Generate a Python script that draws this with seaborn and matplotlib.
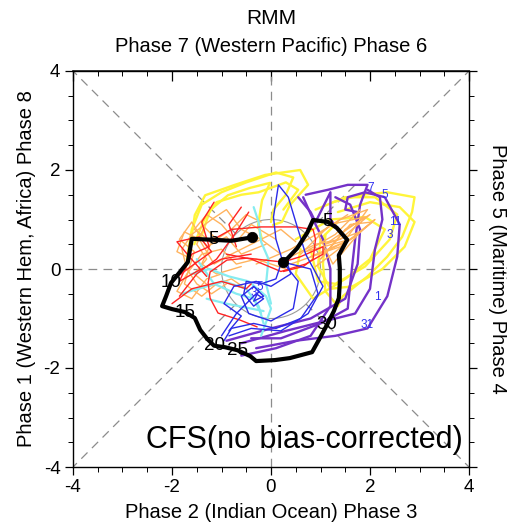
import numpy as np
import pandas as pd
import matplotlib
matplotlib.use("Agg")
import matplotlib.pyplot as plt
from matplotlib.ticker import MultipleLocator
import seaborn as sns

sns.set_theme(style="white")
plt.rcParams['font.family'] = ['Liberation Sans', 'DejaVu Sans']
plt.rcParams['axes.unicode_minus'] = False
plt.rcParams['text.color'] = 'black'
plt.rcParams['xtick.color'] = 'black'
plt.rcParams['ytick.color'] = 'black'

# ---------------- data ----------------
# observed RMM trajectory (RMM1, RMM2)
obs_x = [-0.38, -0.80, -1.17, -1.60, -1.68, -1.84, -2.02, -2.12, -2.20, -2.00, -1.74, -1.54,
         -1.43, -1.29, -1.15, -0.93, -0.68, -0.42, -0.30, 0.08, 0.38, 0.83, 0.99, 1.13,
         1.27, 1.37, 1.39, 1.39, 1.37, 1.54, 1.33, 1.15, 0.85, 0.73, 0.53, 0.34, 0.24]
obs_y = [0.64, 0.57, 0.59, 0.61, 0.14, -0.06, -0.28, -0.55, -0.75, -0.81, -0.87, -0.99,
         -1.23, -1.41, -1.55, -1.58, -1.64, -1.76, -1.86, -1.84, -1.80, -1.68, -1.39, -1.13,
         -0.85, -0.59, -0.28, 0.02, 0.28, 0.59, 0.83, 0.95, 0.99, 0.73, 0.42, 0.22, 0.14]
day_labels = ["5", "10", "15", "20", "25", "30", "5"]
day_index = [2, 6, 10, 14, 16, 23, 31]

yellow_tracks = [
    [(-1.64, 0.38), (-1.54, 1.09), (-1.33, 1.49), (-0.73, 1.70), (-0.12, 1.90), (0.59, 2.00),
     (0.75, 1.70), (0.38, 1.29), (0.22, 0.95), (0.04, 0.89)],
    [(-1.43, 0.59), (-1.23, 1.19), (-0.87, 1.49), (-0.42, 1.64), (-0.02, 1.74), (-0.18, 1.39),
     (-0.26, 0.89), (-0.18, 0.59)],
    [(-1.70, 0.20), (-1.60, 0.80), (-1.40, 1.30), (-1.00, 1.55), (-0.50, 1.75), (0.10, 1.95),
     (0.45, 1.85), (0.30, 1.50), (0.05, 1.20), (0.00, 0.95)],
    [(-1.55, 0.50), (-1.35, 1.00), (-1.10, 1.35), (-0.60, 1.50), (-0.25, 1.55), (0.30, 1.75),
     (0.55, 1.60), (0.25, 1.20)],
    [(1.25, 1.35), (1.85, 1.50), (2.35, 1.55), (2.90, 1.45), (2.85, 1.15), (2.65, 0.65),
     (2.35, 0.25), (1.95, -0.15), (1.45, -0.55), (1.35, -0.75), (1.10, -0.45), (1.05, 0.10), (1.10, 0.70)],
    [(1.35, 1.15), (2.00, 1.35), (2.60, 1.25), (2.90, 0.95), (2.70, 0.45), (2.25, 0.00),
     (1.65, -0.35), (1.20, -0.40), (0.95, 0.05), (1.00, 0.60), (1.35, 0.95)],
    [(0.50, 0.60), (1.20, 1.00), (1.90, 1.05), (2.30, 0.80), (2.00, 0.20), (1.50, -0.20),
     (0.85, -0.60), (0.50, -0.10), (0.60, 0.40)],
    [(0.90, 1.20), (1.50, 1.45), (2.10, 1.45), (2.55, 1.10), (2.40, 0.60), (1.90, 0.05),
     (1.30, -0.30), (0.95, -0.25), (0.80, 0.40)],
]

purple_tracks = [
    [(-0.30, -1.60), (0.50, -1.45), (1.30, -1.35), (1.95, -1.20), (2.35, -0.55), (2.55, 0.25),
     (2.60, 0.90), (2.30, 1.45), (1.90, 1.55), (1.55, 1.45), (1.50, 1.20), (1.75, 1.15)],
    [(-0.60, -1.50), (0.30, -1.25), (1.10, -1.05), (1.70, -0.90), (2.00, -0.40), (2.10, 0.40),
     (2.25, 1.00), (2.20, 1.45), (1.95, 1.60)],
    [(0.65, 1.45), (0.85, 1.00), (1.05, 0.60), (1.20, 0.00), (1.20, -0.75), (0.80, -1.35),
     (0.10, -1.60), (-0.60, -1.75)],
    [(0.70, 1.50), (1.15, 1.60), (1.55, 1.70), (1.95, 1.70), (1.80, 1.30), (1.70, 0.60),
     (1.60, -0.30), (1.55, -0.80), (1.00, -1.10), (0.20, -1.40), (-0.40, -1.40)],
    [(0.55, 1.45), (0.80, 1.15), (0.90, 0.95), (1.20, 1.55), (1.20, 1.00), (1.45, 0.70)],
    [(-0.90, -1.45), (0.00, -1.20), (0.80, -1.00), (1.50, -0.60), (1.75, 0.10), (1.80, 0.80),
     (1.60, 1.30), (1.30, 1.45)],
]

orange_tracks = [
    [(0.20, 0.30), (-0.20, 0.60), (-0.60, 0.80), (-0.90, 1.20), (-1.20, 1.00), (-1.60, 0.70),
     (-1.80, 0.40), (-1.70, 0.00), (-1.50, -0.30), (-1.20, -0.50), (-0.90, -0.30)],
    [(0.30, 0.00), (-0.30, 0.20), (-0.70, 0.10), (-1.00, 0.40), (-1.40, 0.30), (-1.70, -0.10),
     (-1.90, -0.45), (-1.60, -0.60), (-1.30, -0.20), (-1.00, -0.10)],
    [(-0.20, 0.95), (-0.50, 1.10), (-0.80, 0.80), (-1.10, 0.60), (-1.35, 0.85), (-1.50, 0.50),
     (-1.30, 0.20), (-1.55, -0.10), (-1.25, -0.35), (-0.80, -0.20), (-0.50, -0.40)],
    [(0.50, 0.55), (0.20, 0.80), (-0.40, 0.50), (-0.80, 0.30), (-1.15, 0.10), (-1.45, 0.60),
     (-1.75, 0.75), (-1.90, 0.35), (-1.60, 0.20)],
    [(-0.10, 0.50), (-0.60, 0.30), (-0.90, 0.65), (-1.30, 0.45), (-1.60, 0.95), (-1.85, 0.60),
     (-1.55, 0.35), (-1.75, -0.30), (-1.40, -0.55), (-1.10, -0.30)],
    [(0.10, 0.60), (-0.40, 0.90), (-0.70, 0.55), (-1.00, 0.90), (-1.30, 1.10), (-1.55, 0.80),
     (-1.20, 0.55), (-1.40, 0.10), (-1.10, -0.10), (-0.60, 0.05)],
    [(0.30, 0.20), (0.90, 0.50), (1.40, 0.60), (2.00, 1.10), (1.50, 0.80), (1.00, 0.20),
     (1.60, 0.90), (2.05, 0.95), (1.30, 0.35), (0.90, 0.05)],
    [(0.60, 0.30), (1.20, 0.90), (1.90, 1.05), (1.10, 0.50), (1.80, 0.75), (1.25, 0.10),
     (0.95, 0.70), (1.55, 1.10)],
    [(-0.30, 0.10), (0.40, 0.40), (1.00, 0.75), (1.40, 1.00), (1.95, 1.20), (1.40, 0.45),
     (0.80, 0.25), (1.50, 0.55)],
    [(0.40, 0.10), (1.10, 0.35), (1.70, 0.65), (2.10, 1.00), (1.60, 0.60), (0.70, 0.35),
     (1.30, 0.70), (1.80, 1.20)],
]

cyan_tracks = [
    [(-1.60, -0.10), (-1.25, 0.00), (-0.85, -0.15), (-0.45, -0.25), (-0.10, -0.55), (0.00, -0.80), (-0.20, -1.35)],
    [(-1.80, -0.50), (-1.30, -0.35), (-0.95, -0.25), (-0.50, -0.40), (-0.25, -0.75), (-0.15, -1.10)],
    [(-1.50, 0.20), (-1.15, -0.30), (-0.70, -0.50), (-0.35, -0.60), (-0.20, -0.90)],
    [(-0.35, 1.25), (-0.25, 0.95), (-0.20, 0.55), (-0.05, 0.20), (-0.10, -0.30), (0.00, -0.70)],
    [(-1.30, -0.60), (-0.90, -0.70), (-0.40, -0.80), (-0.15, -0.85)],
]

red_tracks = [
    [(0.24, 0.14), (-0.48, 0.22), (-0.89, 0.18), (-1.23, -0.06), (-1.27, -0.28), (-1.23, -0.59),
     (-1.07, -0.89), (-0.63, -1.03), (-0.28, -1.17)],
    [(-1.25, 0.55), (-0.80, 0.80), (-0.20, 0.85), (0.50, 0.85), (0.85, 0.80), (0.90, 0.60),
     (0.85, 0.20), (0.65, 0.05), (0.25, -0.05)],
    [(0.24, 0.14), (0.60, 0.25), (1.05, 0.45), (1.05, 0.30), (0.70, 0.10), (0.20, -0.05),
     (-0.40, 0.20), (-0.90, 0.30)],
    [(-0.40, 0.30), (-1.00, 0.20), (-1.50, -0.05), (-1.85, -0.25), (-1.60, 0.30), (-1.25, 0.45),
     (-1.40, 0.95), (-1.15, 1.35)],
    [(-0.40, -0.30), (-0.50, -0.40), (-1.00, -0.25), (-1.60, -0.40), (-2.00, -0.70)],
    [(-1.30, -0.15), (-1.65, 0.25), (-1.90, 0.55), (-1.45, 0.65), (-1.20, 0.35), (-1.55, 0.10), (-1.95, -0.20)],
    [(-0.70, 0.45), (-0.85, 0.90), (-0.60, 1.25)],
    [(-1.85, -0.55), (-1.50, -0.10), (-1.10, 0.20), (-0.70, 0.75), (-0.45, 1.15)],
]

blue_tracks = [
    [(0.24, 0.14), (0.55, -0.25), (0.45, -0.80), (0.00, -1.05), (-0.45, -0.90), (-0.60, -0.55),
     (-0.35, -0.35), (-0.15, -0.55), (-0.35, -0.65), (-0.25, -0.45)],
    [(0.24, 0.14), (0.10, 0.60), (0.05, 1.05), (0.15, 1.70), (0.35, 1.45), (0.50, 0.95),
     (0.70, 0.30), (1.05, -0.35), (0.75, -0.90), (0.20, -1.25), (-0.40, -1.20), (-0.85, -1.35)],
    [(0.24, 0.14), (0.80, 0.00), (0.95, -0.50), (0.60, -1.00), (0.10, -1.20), (-0.35, -1.10),
     (-0.80, -1.20), (-0.95, -1.45)],
    [(0.20, 0.10), (0.10, -0.20), (-0.20, -0.30), (-0.50, -0.25), (-0.55, -0.50), (-0.35, -0.75),
     (-0.15, -0.60), (-0.30, -0.50), (-0.45, -0.65), (-0.70, -0.90), (-1.00, -1.35)],
    [(0.30, 0.20), (0.40, -0.10), (0.00, -0.35), (-0.30, -0.25), (-0.75, -0.35), (-0.95, -0.70),
     (-0.60, -0.95), (-0.85, -1.25)],
]

member_labels = ["7", "5", "11", "3", "1", "31", "3", "5"]
member_lab_x = [2.02, 2.30, 2.51, 2.40, 2.14, 1.94, -0.35, -0.22]
member_lab_y = [1.64, 1.49, 0.95, 0.69, -0.57, -1.13, -0.48, -0.36]

# ---------------- figure ----------------
fig = plt.figure(figsize=(5.07, 5.23), dpi=100)
ax = fig.add_axes([73 / 507, 56 / 523, 396 / 507, 396 / 523])


def to_frame(tracks):
    rows = []
    for k, tr in enumerate(tracks):
        for i, (x, y) in enumerate(tr):
            rows.append((k, i, x, y))
    return pd.DataFrame(rows, columns=["track", "step", "x", "y"])


# reference lines
dash = dict(color="#8c8c8c", lw=0.9, ls=(0, (7, 5)), zorder=1)
r = 1 / np.sqrt(2)
for sx, sy in [(1, 1), (1, -1), (-1, 1), (-1, -1)]:
    ax.plot([sx * r, sx * 4], [sy * r, sy * 4], **dash)
ax.plot([1, 4], [0, 0], **dash)
ax.plot([-4, -1], [0, 0], **dash)
ax.plot([0, 0], [1, 4], **dash)
ax.plot([0, 0], [-4, -1], **dash)
ax.add_patch(plt.Circle((0, 0), 1, fill=False, color="#9a9a9a", lw=0.8, zorder=1))

groups = [
    (yellow_tracks, "#FFF53A", 1.7, 2),
    (purple_tracks, "#7432C8", 1.7, 3),
    (orange_tracks, "#FFB35E", 1.0, 4),
    (cyan_tracks, "#86ECF0", 1.6, 5),
    (red_tracks, "#FF2424", 1.0, 6),
    (blue_tracks, "#2B2BE8", 1.0, 7),
]
for tracks, col, lw, z in groups:
    df = to_frame(tracks)
    sns.lineplot(data=df, x="x", y="y", units="track", estimator=None, sort=False,
                 color=col, linewidth=lw, legend=False, ax=ax, zorder=z)

obs_df = pd.DataFrame({"x": obs_x, "y": obs_y, "step": range(len(obs_x))})
sns.lineplot(data=obs_df, x="x", y="y", sort=False, estimator=None, color="black",
             linewidth=3.0, legend=False, ax=ax, zorder=9)
sns.scatterplot(x=[obs_x[0], obs_x[-1]], y=[obs_y[0], obs_y[-1]], color="black",
                s=55, marker="o", edgecolor="black", ax=ax, zorder=10, legend=False)

for lab, idx in zip(day_labels, day_index):
    ax.text(obs_x[idx], obs_y[idx], lab, fontsize=13.5, ha="center", va="center",
            color="black", zorder=11)
for lab, x, y in zip(member_labels, member_lab_x, member_lab_y):
    ax.text(x, y, lab, fontsize=8.5, ha="center", va="center", color="#3030F0", zorder=11)

ax.text(3.87, -3.46, "CFS(no bias-corrected)", fontsize=22, ha="right", va="center",
        color="black", zorder=12)

ax.set_xlim(-4, 4)
ax.set_ylim(-4, 4)
ax.set_xlabel("")
ax.set_ylabel("")
ax.set_xticks([-4, -2, 0, 2, 4])
ax.set_yticks([-4, -2, 0, 2, 4])
ax.set_xticklabels(["-4", "-2", "0", "2", "4"])
ax.set_yticklabels(["-4", "-2", "0", "2", "4"])
ax.xaxis.set_minor_locator(MultipleLocator(0.5))
ax.yaxis.set_minor_locator(MultipleLocator(0.5))
ax.tick_params(axis="both", which="major", direction="out", length=6, width=0.9,
               labelsize=13.5, colors="black", pad=3)
ax.tick_params(axis="both", which="minor", direction="out", length=3.5, width=0.7)
ax.tick_params(axis="y", which="both", left=True, right=True, labelright=False)
ax.tick_params(axis="x", which="both", bottom=True, top=False)
for s in ax.spines.values():
    s.set_color("black")
    s.set_linewidth(1.0)

sec = ax.secondary_xaxis("top")
sec.set_xticks([-4, -2, 0, 2, 4])
sec.xaxis.set_minor_locator(MultipleLocator(0.5))
sec.tick_params(axis="x", which="major", direction="in", length=7, width=0.9, labeltop=False)
sec.tick_params(axis="x", which="minor", direction="in", length=3.5, width=0.7)
sec.set_xticklabels([])

fig.text(271 / 507, 1 - 18 / 523, "RMM", fontsize=15, ha="center", va="center")
fig.text(271 / 507, 1 - 46 / 523, "Phase 7 (Western Pacific) Phase 6", fontsize=14.5,
         ha="center", va="center")
fig.text(271 / 507, 1 - 513 / 523, "Phase 2 (Indian Ocean) Phase 3", fontsize=14.5,
         ha="center", va="center")
fig.text(27 / 507, 1 - 269 / 523, "Phase 1 (Western Hem, Africa) Phase 8", fontsize=14.5,
         ha="center", va="center", rotation=90)
fig.text(497 / 507, 1 - 269 / 523, "Phase 5 (Maritime) Phase 4", fontsize=14.5,
         ha="center", va="center", rotation=270)

fig.savefig("out.png", dpi=100)
